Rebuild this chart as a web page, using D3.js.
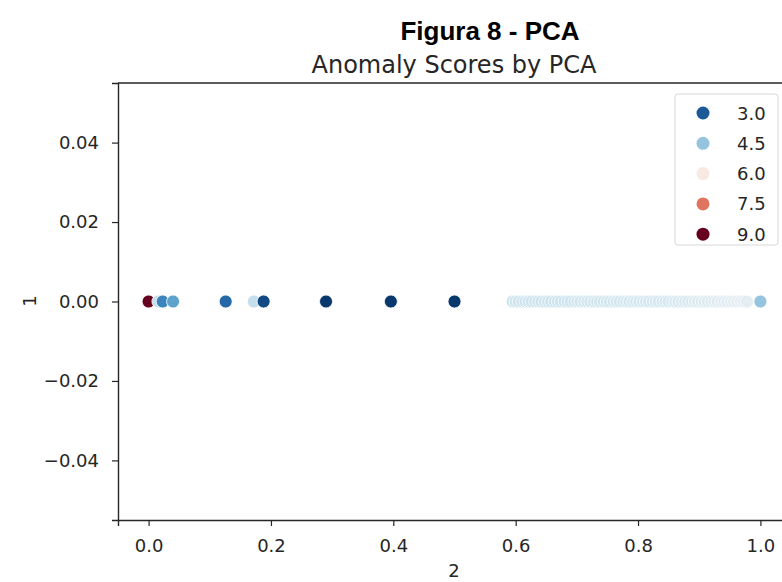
<!DOCTYPE html>
<html>
<head>
<meta charset="utf-8">
<script src="https://cdn.jsdelivr.net/npm/d3@7"></script>
<style>
  body { margin: 0; background: #fff; }
  text { font-family: "DejaVu Sans", sans-serif; fill: #262626; }
</style>
</head>
<body>
<div id="chart"></div>
<script>
// isolated points: x value ("2") and anomaly score (hue); y ("1") is always 0
var pointX   = [0.000, 0.016, 0.023, 0.040, 0.126, 0.172, 0.188, 0.290, 0.396, 0.500, 1.000];
var pointHue = [9.0,   5.0,   3.6,   4.0,   3.2,   5.0,   2.8,   2.6,   2.6,   2.6,   4.5];

// dense run of points between ~0.6 and ~0.98
var bandX = [0.595, 0.600, 0.605, 0.611, 0.616, 0.621, 0.626, 0.632, 0.637, 0.642,
             0.648, 0.653, 0.658, 0.664, 0.669, 0.674, 0.680, 0.685, 0.690, 0.696,
             0.701, 0.706, 0.712, 0.717, 0.722, 0.728, 0.733, 0.738, 0.744, 0.749,
             0.754, 0.760, 0.765, 0.770, 0.776, 0.781, 0.786, 0.792, 0.797, 0.802,
             0.808, 0.813, 0.818, 0.824, 0.829, 0.834, 0.840, 0.845, 0.850, 0.856,
             0.861, 0.866, 0.872, 0.877, 0.882, 0.888, 0.893, 0.898, 0.904, 0.909,
             0.914, 0.920, 0.925, 0.930, 0.936, 0.941, 0.946, 0.952, 0.957, 0.962,
             0.968, 0.973, 0.978];
var bandHue = [5.1, 5.1, 5.1, 5.1, 5.1, 5.1, 5.1, 5.1, 5.1, 5.1,
               5.1, 5.1, 5.1, 5.1, 5.1, 5.1, 5.1, 5.1, 5.1, 5.1,
               5.15, 5.15, 5.15, 5.15, 5.15, 5.15, 5.15, 5.15, 5.15, 5.15,
               5.15, 5.15, 5.15, 5.15, 5.15, 5.2, 5.2, 5.2, 5.2, 5.2,
               5.2, 5.2, 5.2, 5.2, 5.2, 5.2, 5.2, 5.2, 5.2, 5.25,
               5.25, 5.25, 5.25, 5.25, 5.25, 5.25, 5.3, 5.3, 5.3, 5.3,
               5.3, 5.3, 5.35, 5.35, 5.35, 5.35, 5.4, 5.4, 5.4, 5.45,
               5.45, 5.45, 5.45];

var xTicks = [0.0, 0.2, 0.4, 0.6, 0.8, 1.0];
var yTicks = [-0.04, -0.02, 0.00, 0.02, 0.04];
var legendHues = [3.0, 4.5, 6.0, 7.5, 9.0];

var width = 782, height = 582;
var svg = d3.select("#chart").append("svg")
            .attr("width", width)
            .attr("height", height);

var x = d3.scaleLinear().domain([-0.05, 1.05]).range([118, 791]);
var y = d3.scaleLinear().domain([-0.055, 0.055]).range([520, 83]);
var color = function(h) { return d3.interpolateRdBu(1 - (h - 2.5) / 6.5); };

// titles
svg.append("text")
   .attr("x", 490).attr("y", 40)
   .attr("text-anchor", "middle")
   .style("font-family", "'Liberation Sans', Arial, sans-serif")
   .style("font-weight", "bold")
   .style("font-size", "26px")
   .style("fill", "#000")
   .text("Figura 8 - PCA");

svg.append("text")
   .attr("x", 454).attr("y", 73)
   .attr("text-anchor", "middle")
   .style("font-size", "24px")
   .text("Anomaly Scores by PCA");

// axes
var xAxis = svg.append("g")
   .attr("transform", "translate(0,520)")
   .call(d3.axisBottom(x).tickValues(xTicks).tickFormat(d3.format(".1f"))
         .tickSizeOuter(0).tickSize(6).tickPadding(8));
var yAxis = svg.append("g")
   .attr("transform", "translate(118,0)")
   .call(d3.axisLeft(y).tickValues(yTicks).tickFormat(d3.format(".2f"))
         .tickSizeOuter(0).tickSize(6).tickPadding(13));

[xAxis, yAxis].forEach(function(a) {
  a.select(".domain").attr("stroke", "#262626").attr("stroke-width", 1.4);
  a.selectAll(".tick line").attr("stroke", "#262626").attr("stroke-width", 1.2);
  a.selectAll(".tick text").style("font-family", "'DejaVu Sans', sans-serif")
   .style("font-size", "18px").attr("fill", "#262626");
});
xAxis.selectAll(".tick text").attr("dy", "1.0em");
yAxis.selectAll(".tick text").text(function(d) { return d3.format(".2f")(d).replace("-", "\u2212"); });

// top spine
svg.append("line")
   .attr("x1", 118).attr("x2", 791)
   .attr("y1", y(0.055)).attr("y2", y(0.055))
   .attr("stroke", "#262626").attr("stroke-width", 1.4);

// axis labels
svg.append("text")
   .attr("x", 454).attr("y", 577)
   .attr("text-anchor", "middle")
   .style("font-size", "18px")
   .text("2");
svg.append("text")
   .attr("transform", "translate(36,301) rotate(-90)")
   .attr("text-anchor", "middle")
   .style("font-size", "18px")
   .text("1");

// points
var band = bandX.map(function(v, i) { return {x: v, h: bandHue[i]}; });
var pts = pointX.map(function(v, i) { return {x: v, h: pointHue[i]}; });

svg.selectAll(".band").data(band).enter().append("circle")
   .attr("class", "band")
   .attr("cx", function(d) { return x(d.x); })
   .attr("cy", y(0))
   .attr("r", 6.5)
   .attr("fill", function(d) { return color(d.h); })
   .attr("stroke", "#fff").attr("stroke-width", 0.8);

svg.selectAll(".pt").data(pts).enter().append("circle")
   .attr("class", "pt")
   .attr("cx", function(d) { return x(d.x); })
   .attr("cy", y(0))
   .attr("r", 6.5)
   .attr("fill", function(d) { return color(d.h); })
   .attr("stroke", "#fff").attr("stroke-width", 0.8);

// legend
var lg = svg.append("g");
lg.append("rect")
  .attr("x", 675).attr("y", 94).attr("width", 103).attr("height", 151)
  .attr("rx", 3)
  .attr("fill", "#fff").attr("fill-opacity", 0.8)
  .attr("stroke", "#d6d6d6").attr("stroke-width", 1);

var rows = lg.selectAll(".row").data(legendHues).enter().append("g")
  .attr("transform", function(d, i) { return "translate(0," + (113 + i * 30.3) + ")"; });
rows.append("circle")
  .attr("cx", 703).attr("cy", 0).attr("r", 6.5)
  .attr("fill", function(d) { return color(d); });
rows.append("text")
  .attr("x", 737).attr("y", 6.5)
  .style("font-size", "18px")
  .text(function(d) { return d3.format(".1f")(d); });
</script>
</body>
</html>
